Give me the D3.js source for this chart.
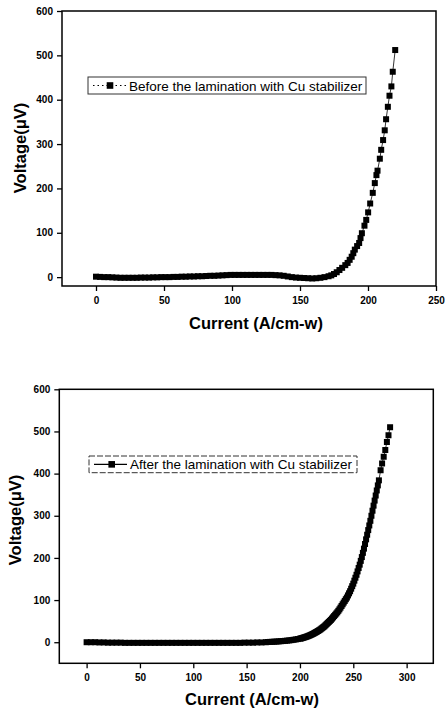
<!DOCTYPE html>
<meta charset="utf-8">
<script src="https://d3js.org/d3.v7.min.js"></script>
<style>
  body { margin: 0; background: #fff; }
  .tick text { font-family: "Liberation Sans", Arial, sans-serif; font-weight: bold; font-size: 10px; }
  .axis-label { font-family: "Liberation Sans", Arial, sans-serif; font-weight: bold; font-size: 16.5px; }
  .legend-text { font-family: "Liberation Sans", Arial, sans-serif; font-size: 13.5px; }
</style>
<div id="wrapper"></div>
<script>
  // Data: before lamination (top panel)
  const beforeCurrent = [0, 3, 6, 9, 12, 15, 18, 21, 24, 27, 30, 33, 36, 39, 42, 45, 48, 51, 54, 57,
    60, 63, 66, 69, 72, 75, 78, 81, 84, 87, 90, 93, 96, 99, 102, 105, 108, 111, 114, 117,
    120, 123, 126, 129, 132, 135, 138, 141, 144, 147, 150, 153, 156, 159, 162, 165, 168, 171, 173,
    175, 177, 179, 181, 183.3, 185, 186.5, 188, 189.2, 190.3, 192, 193.5, 194.5, 195.5, 197.4,
    198.7, 200.1, 201.6, 203.5, 205, 206.2, 207, 208.7, 209.7, 211.1, 212.3, 213.3, 214.6,
    215.8, 217.2, 218.2, 220];
  const beforeVoltage = [1, 0.5, 0, 0, -0.5, -1, -1.5, -1.5, -1.5, -1.5, -1.5, -1, -1, -1, -0.5, -0.5, 0, 0, 0, 0.5,
    0.5, 1, 1, 1.5, 1.5, 2, 2, 2.5, 3, 3, 3.5, 4, 4.5, 5, 5, 5, 5, 5, 5, 5,
    5, 5, 5, 5, 4.5, 4, 3, 1.5, 0, -1, -1.5, -2, -2.5, -3, -2.5, -1.5, 0, 2, 4,
    7, 11, 16, 21, 27, 32, 39, 46, 54, 62, 70, 77, 88, 99, 116,
    129, 146, 166, 190, 212, 230, 240, 267, 287, 309, 331, 356, 384,
    409, 430, 463, 512];

  // Data: after lamination (bottom panel)
  const afterCurrent = [0, 4, 8, 12, 16, 20, 24, 28, 32, 36, 40, 44, 48, 52, 56, 60, 64, 68, 72, 76,
    80, 84, 88, 92, 96, 100, 104, 108, 112, 116, 120, 124, 128, 132, 136, 140, 144, 148, 152, 156,
    160, 164, 168, 170, 172, 174, 176, 178, 180, 182, 184, 186, 188, 190, 192, 194, 196, 198,
    200, 201, 202, 203, 204, 205, 206, 207, 208, 209, 210, 211, 212, 213, 214, 215, 216, 217, 218, 219,
    220, 221, 222, 223, 224, 225, 226, 227, 228, 229, 230, 231, 232, 233, 234, 235, 236, 237, 238, 239,
    240, 241, 242, 243, 244, 245, 246, 247, 248, 249, 250, 251, 252, 253, 254, 255, 256, 257, 258, 259,
    260, 261, 262, 263, 264, 265, 266, 267, 268, 269, 270, 271, 272, 273, 274,
    275.6, 277, 278.5, 280, 281.5, 283, 284.5];
  const afterVoltage = [0, 0, 0, -0.5, -0.5, -1, -1, -1, -1, -1.5, -1.5, -1.5, -1.5, -1.5, -1.5, -1.5, -1.5, -1.5, -1.5, -1.5,
    -1.5, -1.5, -1.5, -1.5, -1.5, -1.5, -1.5, -1.5, -1.5, -1.5, -1.5, -1.5, -1.5, -1.5, -1.5, -1.5, -1.5, -1, -1, -1,
    -0.5, -0.5, 0, 0.5, 0.8, 1, 1.3, 1.6, 2, 2.4, 2.8, 3.3, 3.8, 4.3, 5, 5.8, 6.6, 7.5,
    8.5, 9, 9.8, 10.6, 11.4, 12.2, 13, 14, 15, 16, 17.2, 18.4, 19.6, 21, 22.4, 23.8, 25.2, 26.8, 28.4, 30,
    32, 34, 36, 38, 40.5, 43, 45.5, 48, 50.5, 53, 56, 59, 62, 65, 68, 71, 74.5, 78, 82, 86,
    90, 94, 98, 102, 106, 111, 116, 121, 127, 133, 139, 146, 153, 160, 168, 176, 184, 193, 202, 212,
    222, 233, 244, 255, 266, 277, 288, 300, 312, 324, 336, 348, 360, 372, 384,
    408, 424, 440, 456, 475, 491, 510];

  // Ticks
  const yTicks = [0, 100, 200, 300, 400, 500, 600];
  const xTicksBefore = [0, 50, 100, 150, 200, 250];
  const xTicksAfter = [0, 50, 100, 150, 200, 250, 300];

  const svg = d3.select("#wrapper")
    .append("svg")
    .attr("width", 445)
    .attr("height", 711);

  function drawPanel(p) {
    const g = svg.append("g");
    const x = d3.scaleLinear().domain(p.xDomain).range([p.left, p.right]);
    const y = d3.scaleLinear().domain(p.yDomain).range([p.bottom, p.top]);

    g.append("g")
      .attr("transform", `translate(0,${p.bottom})`)
      .call(d3.axisBottom(x).tickValues(p.xTicks).tickSize(5).tickPadding(6))
      .call(a => a.select(".domain").remove())
      .call(a => a.selectAll("line").attr("stroke-width", 1.3));

    g.append("g")
      .attr("transform", `translate(${p.left},0)`)
      .call(d3.axisLeft(y).tickValues(yTicks).tickSize(5).tickPadding(4))
      .call(a => a.select(".domain").remove())
      .call(a => a.selectAll("line").attr("stroke-width", 1.3));

    // frame
    g.append("rect")
      .attr("x", p.left).attr("y", p.top)
      .attr("width", p.right - p.left).attr("height", p.bottom - p.top)
      .attr("fill", "none").attr("stroke", "#000").attr("stroke-width", 1.5);

    const pts = p.current.map((c, i) => [c, p.voltage[i]]);

    g.append("path")
      .datum(pts)
      .attr("fill", "none")
      .attr("stroke", "#000")
      .attr("stroke-width", 0.8)
      .attr("d", d3.line().x(d => x(d[0])).y(d => y(d[1])));

    const s = 6;
    g.append("g")
      .selectAll("rect")
      .data(pts)
      .join("rect")
      .attr("x", d => x(d[0]) - s / 2)
      .attr("y", d => y(d[1]) - s / 2)
      .attr("width", s)
      .attr("height", s)
      .attr("fill", "#000");

    // axis labels
    g.append("text")
      .attr("class", "axis-label")
      .attr("text-anchor", "middle")
      .attr("x", p.xLabelX)
      .attr("y", p.xLabelY)
      .text("Current (A/cm-w)");

    g.append("text")
      .attr("class", "axis-label")
      .attr("text-anchor", "middle")
      .attr("transform", `translate(${p.yLabelX},${p.yLabelY}) rotate(-90)`)
      .text("Voltage(\u03bcV)");

    // legend
    const L = p.legend;
    g.append("rect")
      .attr("x", L.x0).attr("y", L.y0)
      .attr("width", L.x1 - L.x0).attr("height", L.y1 - L.y0)
      .attr("fill", "#fff").attr("stroke", "#333").attr("stroke-width", 1)
      .attr("stroke-dasharray", L.boxDash);
    g.append("line")
      .attr("x1", L.x0 + 5).attr("x2", L.textX - 3)
      .attr("y1", (L.y0 + L.y1) / 2).attr("y2", (L.y0 + L.y1) / 2)
      .attr("stroke", "#000").attr("stroke-width", L.lineWidth)
      .attr("stroke-dasharray", L.lineDash);
    g.append("rect")
      .attr("x", L.symX - 3.3).attr("y", (L.y0 + L.y1) / 2 - 3.3)
      .attr("width", 6.6).attr("height", 6.6)
      .attr("fill", "#000");
    g.append("text")
      .attr("class", "legend-text")
      .attr("x", L.textX)
      .attr("y", L.textY)
      .text(L.text);
  }

  drawPanel({
    left: 62, right: 436, top: 11, bottom: 286,
    xDomain: [-25, 250], yDomain: [-20, 600],
    xTicks: xTicksBefore,
    current: beforeCurrent, voltage: beforeVoltage,
    xLabelX: 256, xLabelY: 329, yLabelX: 26, yLabelY: 148,
    legend: { x0: 88, x1: 366, y0: 77, y1: 94, symX: 110, textX: 129, textY: 90.5,
      text: "Before the lamination with Cu stabilizer", boxDash: null, lineDash: "1.5,3", lineWidth: 1 }
  });

  drawPanel({
    left: 59.3, right: 433.3, top: 389.3, bottom: 663.3,
    xDomain: [-25.6, 325], yDomain: [-50, 600],
    xTicks: xTicksAfter,
    current: afterCurrent, voltage: afterVoltage,
    xLabelX: 252, xLabelY: 705, yLabelX: 21, yLabelY: 520,
    legend: { x0: 89, x1: 357, y0: 456, y1: 472.7, symX: 111.7, textX: 130, textY: 469,
      text: "After the lamination with Cu stabilizer", boxDash: "6,2", lineDash: null, lineWidth: 1.3 }
  });
</script>
